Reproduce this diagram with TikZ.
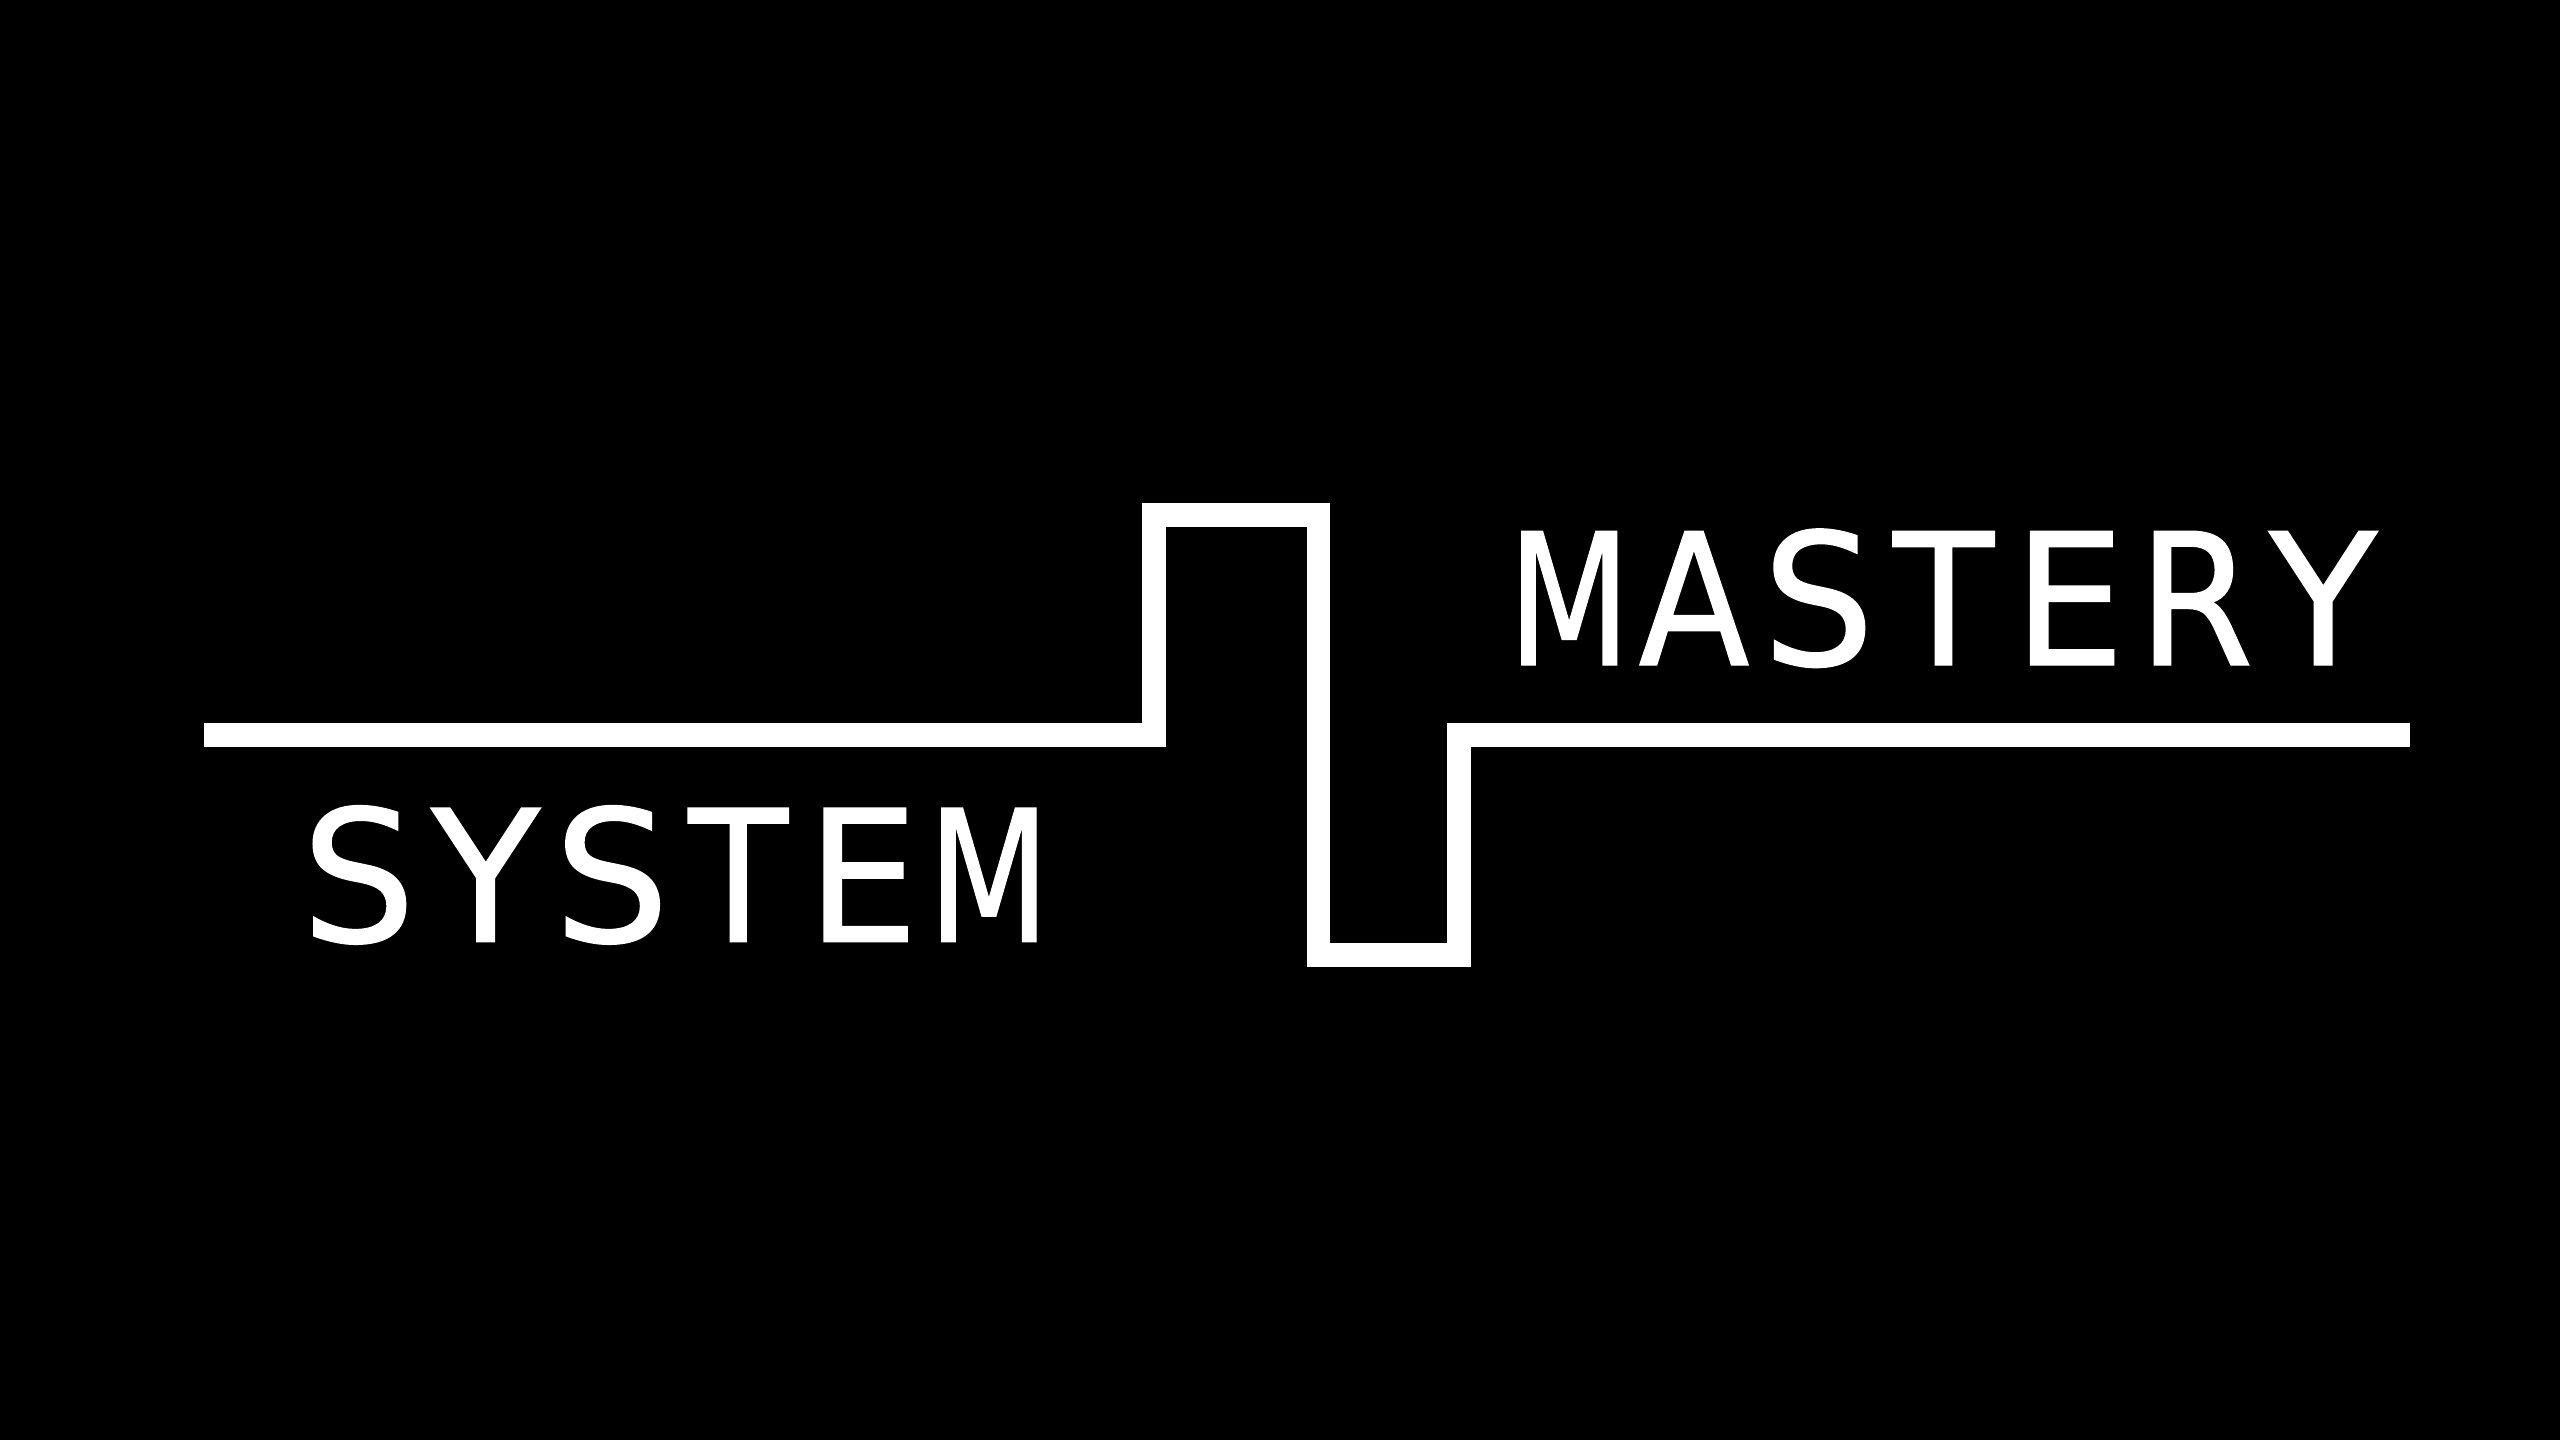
\documentclass[tikz,border=0pt]{standalone}
\usepackage{graphicx}
\usepackage{fontspec}
\setmainfont{DejaVu Sans}[FakeBold=0.8]
\newcommand\placeglyph[6]{% origin, letter, lsb, ink, left, right
  \pgfmathsetmacro\gsx{(#6-#5)/(#4*183.4)}%
  \pgfmathsetmacro\gkx{#5-#1-#3*183.4*\gsx}%
  \rlap{\kern\gkx pt\scalebox{\gsx}[1]{#2}}}
\newcommand\GS[3]{\placeglyph{#1}{S}{.0659}{.513}{#2}{#3}}
\newcommand\GY[3]{\placeglyph{#1}{Y}{-.002}{.615}{#2}{#3}}
\newcommand\GT[3]{\placeglyph{#1}{T}{-.003}{.617}{#2}{#3}}
\newcommand\GE[3]{\placeglyph{#1}{E}{.098}{.471}{#2}{#3}}
\newcommand\GM[3]{\placeglyph{#1}{M}{.098}{.666}{#2}{#3}}
\newcommand\GA[3]{\placeglyph{#1}{A}{.008}{.668}{#2}{#3}}
\newcommand\GR[3]{\placeglyph{#1}{R}{.098}{.552}{#2}{#3}}
\begin{document}
\begin{tikzpicture}[x=1pt,y=-1pt,
  trace/.style={draw=white,line width=23.5pt,line cap=butt,line join=miter},
  word/.style={text=white,font=\fontsize{183.4}{183.4}\selectfont,inner sep=0pt,outer sep=0pt,anchor=base west}]
\useasboundingbox[fill=black] (0,0) rectangle (2560,1440);
\coordinate (start) at (204,735);
\coordinate (up1) at (1154,735);
\coordinate (up2) at (1154,515);
\coordinate (top2) at (1318.7,515);
\coordinate (low1) at (1318.7,955);
\coordinate (low2) at (1459,955);
\coordinate (rise) at (1459,735);
\coordinate (finish) at (2409.5,735);
\draw[trace] (start) -- (up1) -- (up2) -- (top2) -- (low1) -- (low2) -- (rise) -- (finish);
\node[word] (system) at (313,941.7) {\GS{313}{313.2}{405.6}\GY{313}{430.9}{540.5}\GS{313}{565.8}{659.3}\GT{313}{688}{788.5}\GE{313}{824}{907.3}\GM{313}{941.8}{1036}\kern723pt};
\node[word] (mastery) at (1521,665) {\GM{1521}{1521.6}{1616.6}\GA{1521}{1639.8}{1748.2}\GS{1521}{1774}{1864.6}\GT{1521}{1892.7}{1994.4}\GE{1521}{2030.5}{2113.8}\GR{1521}{2154.2}{2246}\GY{1521}{2268.7}{2377.7}\kern857pt};
\end{tikzpicture}
\end{document}
